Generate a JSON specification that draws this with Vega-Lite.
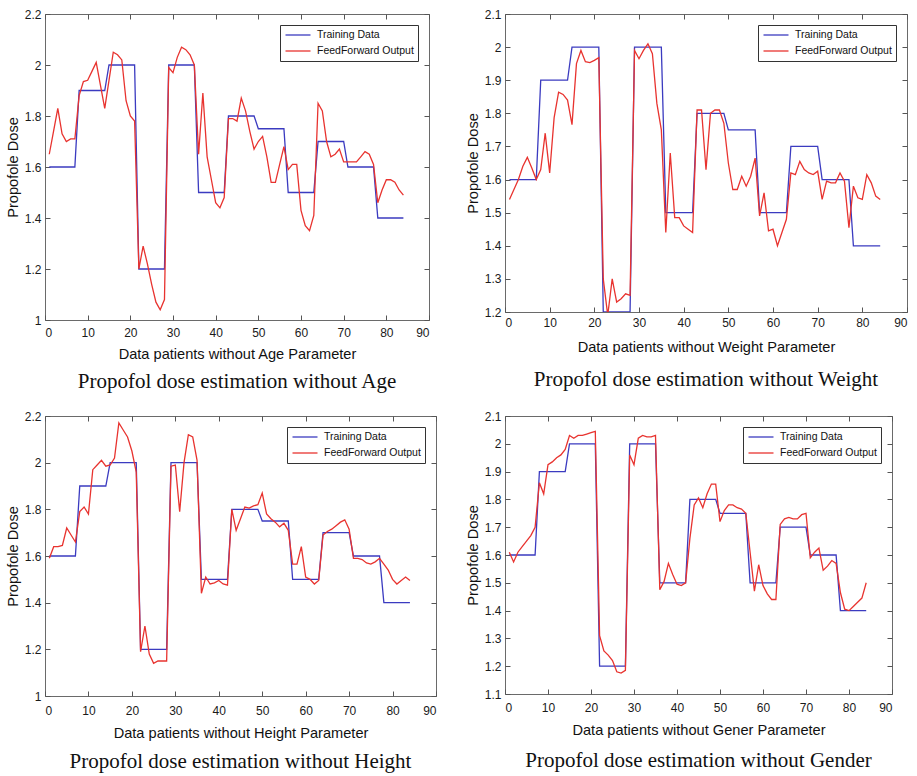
{
  "$schema": "https://vega.github.io/schema/vega-lite/v6.json",
  "background": "white",
  "padding": {"left": 4, "top": 7, "right": 4, "bottom": 4},
  "datasets": {
    "dose": [
      {"patient": 1, "training": 1.6, "age": 1.65, "weight": 1.54, "height": 1.59, "gender": 1.61},
      {"patient": 2, "training": 1.6, "age": 1.74, "weight": 1.57, "height": 1.64, "gender": 1.575},
      {"patient": 3, "training": 1.6, "age": 1.83, "weight": 1.6, "height": 1.64, "gender": 1.61},
      {"patient": 4, "training": 1.6, "age": 1.73, "weight": 1.64, "height": 1.645, "gender": 1.63},
      {"patient": 5, "training": 1.6, "age": 1.7, "weight": 1.667, "height": 1.72, "gender": 1.65},
      {"patient": 6, "training": 1.6, "age": 1.71, "weight": 1.635, "height": 1.69, "gender": 1.67},
      {"patient": 7, "training": 1.6, "age": 1.71, "weight": 1.6, "height": 1.66, "gender": 1.7},
      {"patient": 8, "training": 1.9, "age": 1.88, "weight": 1.63, "height": 1.79, "gender": 1.86},
      {"patient": 9, "training": 1.9, "age": 1.935, "weight": 1.74, "height": 1.81, "gender": 1.82},
      {"patient": 10, "training": 1.9, "age": 1.94, "weight": 1.62, "height": 1.78, "gender": 1.925},
      {"patient": 11, "training": 1.9, "age": 1.975, "weight": 1.787, "height": 1.97, "gender": 1.935},
      {"patient": 12, "training": 1.9, "age": 2.01, "weight": 1.864, "height": 1.99, "gender": 1.95},
      {"patient": 13, "training": 1.9, "age": 1.92, "weight": 1.857, "height": 2.01, "gender": 1.96},
      {"patient": 14, "training": 1.9, "age": 1.83, "weight": 1.84, "height": 1.985, "gender": 1.98},
      {"patient": 15, "training": 2.0, "age": 1.94, "weight": 1.766, "height": 1.99, "gender": 2.03},
      {"patient": 16, "training": 2.0, "age": 2.05, "weight": 1.95, "height": 2.02, "gender": 2.02},
      {"patient": 17, "training": 2.0, "age": 2.04, "weight": 1.99, "height": 2.17, "gender": 2.03},
      {"patient": 18, "training": 2.0, "age": 2.02, "weight": 1.956, "height": 2.14, "gender": 2.03},
      {"patient": 19, "training": 2.0, "age": 1.86, "weight": 1.953, "height": 2.11, "gender": 2.035},
      {"patient": 20, "training": 2.0, "age": 1.8, "weight": 1.96, "height": 2.05, "gender": 2.04},
      {"patient": 21, "training": 2.0, "age": 1.78, "weight": 1.968, "height": 1.96, "gender": 2.045},
      {"patient": 22, "training": 1.2, "age": 1.2, "weight": 1.3, "height": 1.19, "gender": 1.31},
      {"patient": 23, "training": 1.2, "age": 1.29, "weight": 1.19, "height": 1.3, "gender": 1.255},
      {"patient": 24, "training": 1.2, "age": 1.22, "weight": 1.3, "height": 1.18, "gender": 1.24},
      {"patient": 25, "training": 1.2, "age": 1.14, "weight": 1.23, "height": 1.14, "gender": 1.22},
      {"patient": 26, "training": 1.2, "age": 1.07, "weight": 1.24, "height": 1.15, "gender": 1.18},
      {"patient": 27, "training": 1.2, "age": 1.04, "weight": 1.255, "height": 1.15, "gender": 1.175},
      {"patient": 28, "training": 1.2, "age": 1.08, "weight": 1.25, "height": 1.15, "gender": 1.185},
      {"patient": 29, "training": 2.0, "age": 1.99, "weight": 1.99, "height": 1.985, "gender": 1.96},
      {"patient": 30, "training": 2.0, "age": 1.97, "weight": 1.965, "height": 1.99, "gender": 1.925},
      {"patient": 31, "training": 2.0, "age": 2.03, "weight": 1.99, "height": 1.79, "gender": 2.02},
      {"patient": 32, "training": 2.0, "age": 2.07, "weight": 2.01, "height": 2.0, "gender": 2.03},
      {"patient": 33, "training": 2.0, "age": 2.06, "weight": 1.98, "height": 2.12, "gender": 2.025},
      {"patient": 34, "training": 2.0, "age": 2.04, "weight": 1.83, "height": 2.11, "gender": 2.025},
      {"patient": 35, "training": 2.0, "age": 2.0, "weight": 1.75, "height": 2.01, "gender": 2.03},
      {"patient": 36, "training": 1.5, "age": 1.65, "weight": 1.44, "height": 1.44, "gender": 1.475},
      {"patient": 37, "training": 1.5, "age": 1.89, "weight": 1.68, "height": 1.51, "gender": 1.505},
      {"patient": 38, "training": 1.5, "age": 1.64, "weight": 1.485, "height": 1.48, "gender": 1.57},
      {"patient": 39, "training": 1.5, "age": 1.55, "weight": 1.485, "height": 1.485, "gender": 1.53},
      {"patient": 40, "training": 1.5, "age": 1.46, "weight": 1.46, "height": 1.495, "gender": 1.495},
      {"patient": 41, "training": 1.5, "age": 1.44, "weight": 1.45, "height": 1.48, "gender": 1.49},
      {"patient": 42, "training": 1.5, "age": 1.48, "weight": 1.44, "height": 1.475, "gender": 1.5},
      {"patient": 43, "training": 1.8, "age": 1.79, "weight": 1.81, "height": 1.8, "gender": 1.66},
      {"patient": 44, "training": 1.8, "age": 1.79, "weight": 1.81, "height": 1.71, "gender": 1.78},
      {"patient": 45, "training": 1.8, "age": 1.78, "weight": 1.63, "height": 1.76, "gender": 1.805},
      {"patient": 46, "training": 1.8, "age": 1.87, "weight": 1.8, "height": 1.81, "gender": 1.77},
      {"patient": 47, "training": 1.8, "age": 1.82, "weight": 1.81, "height": 1.805, "gender": 1.82},
      {"patient": 48, "training": 1.8, "age": 1.74, "weight": 1.81, "height": 1.815, "gender": 1.855},
      {"patient": 49, "training": 1.8, "age": 1.67, "weight": 1.77, "height": 1.82, "gender": 1.855},
      {"patient": 50, "training": 1.75, "age": 1.7, "weight": 1.65, "height": 1.87, "gender": 1.72},
      {"patient": 51, "training": 1.75, "age": 1.72, "weight": 1.57, "height": 1.78, "gender": 1.76},
      {"patient": 52, "training": 1.75, "age": 1.64, "weight": 1.57, "height": 1.76, "gender": 1.78},
      {"patient": 53, "training": 1.75, "age": 1.54, "weight": 1.61, "height": 1.745, "gender": 1.78},
      {"patient": 54, "training": 1.75, "age": 1.54, "weight": 1.58, "height": 1.725, "gender": 1.77},
      {"patient": 55, "training": 1.75, "age": 1.61, "weight": 1.61, "height": 1.74, "gender": 1.765},
      {"patient": 56, "training": 1.75, "age": 1.68, "weight": 1.665, "height": 1.71, "gender": 1.75},
      {"patient": 57, "training": 1.5, "age": 1.59, "weight": 1.49, "height": 1.565, "gender": 1.61},
      {"patient": 58, "training": 1.5, "age": 1.61, "weight": 1.56, "height": 1.565, "gender": 1.47},
      {"patient": 59, "training": 1.5, "age": 1.61, "weight": 1.445, "height": 1.64, "gender": 1.565},
      {"patient": 60, "training": 1.5, "age": 1.43, "weight": 1.45, "height": 1.51, "gender": 1.49},
      {"patient": 61, "training": 1.5, "age": 1.37, "weight": 1.4, "height": 1.5, "gender": 1.46},
      {"patient": 62, "training": 1.5, "age": 1.35, "weight": 1.44, "height": 1.48, "gender": 1.44},
      {"patient": 63, "training": 1.5, "age": 1.41, "weight": 1.48, "height": 1.495, "gender": 1.44},
      {"patient": 64, "training": 1.7, "age": 1.85, "weight": 1.62, "height": 1.69, "gender": 1.71},
      {"patient": 65, "training": 1.7, "age": 1.82, "weight": 1.615, "height": 1.705, "gender": 1.73},
      {"patient": 66, "training": 1.7, "age": 1.7, "weight": 1.655, "height": 1.715, "gender": 1.735},
      {"patient": 67, "training": 1.7, "age": 1.64, "weight": 1.63, "height": 1.73, "gender": 1.73},
      {"patient": 68, "training": 1.7, "age": 1.65, "weight": 1.62, "height": 1.745, "gender": 1.73},
      {"patient": 69, "training": 1.7, "age": 1.67, "weight": 1.615, "height": 1.755, "gender": 1.745},
      {"patient": 70, "training": 1.7, "age": 1.62, "weight": 1.625, "height": 1.715, "gender": 1.75},
      {"patient": 71, "training": 1.6, "age": 1.62, "weight": 1.54, "height": 1.59, "gender": 1.59},
      {"patient": 72, "training": 1.6, "age": 1.62, "weight": 1.595, "height": 1.59, "gender": 1.61},
      {"patient": 73, "training": 1.6, "age": 1.62, "weight": 1.59, "height": 1.585, "gender": 1.625},
      {"patient": 74, "training": 1.6, "age": 1.64, "weight": 1.59, "height": 1.57, "gender": 1.545},
      {"patient": 75, "training": 1.6, "age": 1.66, "weight": 1.62, "height": 1.565, "gender": 1.56},
      {"patient": 76, "training": 1.6, "age": 1.65, "weight": 1.595, "height": 1.575, "gender": 1.58},
      {"patient": 77, "training": 1.6, "age": 1.61, "weight": 1.455, "height": 1.59, "gender": 1.57},
      {"patient": 78, "training": 1.4, "age": 1.46, "weight": 1.58, "height": 1.565, "gender": 1.465},
      {"patient": 79, "training": 1.4, "age": 1.51, "weight": 1.545, "height": 1.54, "gender": 1.405},
      {"patient": 80, "training": 1.4, "age": 1.55, "weight": 1.54, "height": 1.5, "gender": 1.4},
      {"patient": 81, "training": 1.4, "age": 1.55, "weight": 1.615, "height": 1.48, "gender": 1.415},
      {"patient": 82, "training": 1.4, "age": 1.54, "weight": 1.59, "height": 1.495, "gender": 1.43},
      {"patient": 83, "training": 1.4, "age": 1.51, "weight": 1.55, "height": 1.51, "gender": 1.445},
      {"patient": 84, "training": 1.4, "age": 1.49, "weight": 1.54, "height": 1.495, "gender": 1.5}
    ]
  },
  "data": {"name": "dose"},
  "vconcat": [
    {
      "hconcat": [
        {
          "width": 384, "height": 306,
          "title": {"text": "Propofol dose estimation without Age", "offset": 10},
          "layer": [
            {
              "mark": {"type": "line", "clip": true},
              "encoding": {
                "x": {"field": "patient", "type": "quantitative", "scale": {"domain": [0, 90], "nice": false},
                      "axis": {"orient": "bottom", "values": [0, 10, 20, 30, 40, 50, 60, 70, 80, 90], "title": "Data patients without Age Parameter", "labelPadding": 12, "titlePadding": 8}},
                "y": {"field": "training", "type": "quantitative", "scale": {"domain": [1, 2.2], "nice": false, "zero": false},
                      "axis": {"orient": "left", "values": [1, 1.2, 1.4, 1.6, 1.8, 2, 2.2], "format": "~g", "title": "Propofole Dose"}},
                "color": {"datum": "Training Data", "type": "nominal",
                          "scale": {"domain": ["Training Data", "FeedForward Output"], "range": ["#3b3bc0", "#e8332f"]},
                          "legend": {"title": null}}
              }
            },
            {
              "mark": {"type": "line", "clip": true},
              "encoding": {
                "x": {"field": "patient", "type": "quantitative",
                      "axis": {"orient": "top", "values": [0, 10, 20, 30, 40, 50, 60, 70, 80, 90], "labels": false, "title": null}},
                "y": {"field": "age", "type": "quantitative",
                      "axis": {"orient": "right", "values": [1, 1.2, 1.4, 1.6, 1.8, 2, 2.2], "labels": false, "title": null}},
                "color": {"datum": "FeedForward Output", "type": "nominal"}
              }
            }
          ],
          "resolve": {"axis": {"x": "independent", "y": "independent"}}
        },
        {
          "width": 402, "height": 298,
          "title": {"text": "Propofol dose estimation without Weight", "offset": 15},
          "layer": [
            {
              "mark": {"type": "line", "clip": true},
              "encoding": {
                "x": {"field": "patient", "type": "quantitative", "scale": {"domain": [0, 90], "nice": false},
                      "axis": {"orient": "bottom", "values": [0, 10, 20, 30, 40, 50, 60, 70, 80, 90], "title": "Data patients without Weight Parameter", "labelPadding": 10, "titlePadding": 11}},
                "y": {"field": "training", "type": "quantitative", "scale": {"domain": [1.2, 2.1], "nice": false, "zero": false},
                      "axis": {"orient": "left", "values": [1.2, 1.3, 1.4, 1.5, 1.6, 1.7, 1.8, 1.9, 2, 2.1], "format": "~g", "title": "Propofole Dose"}},
                "color": {"datum": "Training Data", "type": "nominal",
                          "scale": {"domain": ["Training Data", "FeedForward Output"], "range": ["#3b3bc0", "#e8332f"]},
                          "legend": {"title": null}}
              }
            },
            {
              "mark": {"type": "line", "clip": true},
              "encoding": {
                "x": {"field": "patient", "type": "quantitative",
                      "axis": {"orient": "top", "values": [0, 10, 20, 30, 40, 50, 60, 70, 80, 90], "labels": false, "title": null}},
                "y": {"field": "weight", "type": "quantitative",
                      "axis": {"orient": "right", "values": [1.2, 1.3, 1.4, 1.5, 1.6, 1.7, 1.8, 1.9, 2, 2.1], "labels": false, "title": null}},
                "color": {"datum": "FeedForward Output", "type": "nominal"}
              }
            }
          ],
          "resolve": {"axis": {"x": "independent", "y": "independent"}}
        }
      ],
      "spacing": 34,
      "resolve": {"scale": {"color": "independent"}}
    },
    {
      "hconcat": [
        {
          "width": 391, "height": 280,
          "title": {"text": "Propofol dose estimation without Height", "offset": 11},
          "layer": [
            {
              "mark": {"type": "line", "clip": true},
              "encoding": {
                "x": {"field": "patient", "type": "quantitative", "scale": {"domain": [0, 90], "nice": false},
                      "axis": {"orient": "bottom", "values": [0, 10, 20, 30, 40, 50, 60, 70, 80, 90], "title": "Data patients without Height Parameter", "labelPadding": 14, "titlePadding": 9}},
                "y": {"field": "training", "type": "quantitative", "scale": {"domain": [1, 2.2], "nice": false, "zero": false},
                      "axis": {"orient": "left", "values": [1, 1.2, 1.4, 1.6, 1.8, 2, 2.2], "format": "~g", "title": "Propofole Dose"}},
                "color": {"datum": "Training Data", "type": "nominal",
                          "scale": {"domain": ["Training Data", "FeedForward Output"], "range": ["#3b3bc0", "#e8332f"]},
                          "legend": {"title": null}}
              }
            },
            {
              "mark": {"type": "line", "clip": true},
              "encoding": {
                "x": {"field": "patient", "type": "quantitative",
                      "axis": {"orient": "top", "values": [0, 10, 20, 30, 40, 50, 60, 70, 80, 90], "labels": false, "title": null}},
                "y": {"field": "height", "type": "quantitative",
                      "axis": {"orient": "right", "values": [1, 1.2, 1.4, 1.6, 1.8, 2, 2.2], "labels": false, "title": null}},
                "color": {"datum": "FeedForward Output", "type": "nominal"}
              }
            }
          ],
          "resolve": {"axis": {"x": "independent", "y": "independent"}}
        },
        {
          "width": 387, "height": 278,
          "title": {"text": "Propofol dose estimation without Gender", "offset": 13},
          "layer": [
            {
              "mark": {"type": "line", "clip": true},
              "encoding": {
                "x": {"field": "patient", "type": "quantitative", "scale": {"domain": [0, 90], "nice": false},
                      "axis": {"orient": "bottom", "values": [0, 10, 20, 30, 40, 50, 60, 70, 80, 90], "title": "Data patients without Gener Parameter", "labelPadding": 13, "titlePadding": 9}},
                "y": {"field": "training", "type": "quantitative", "scale": {"domain": [1.1, 2.1], "nice": false, "zero": false},
                      "axis": {"orient": "left", "values": [1.1, 1.2, 1.3, 1.4, 1.5, 1.6, 1.7, 1.8, 1.9, 2, 2.1], "format": "~g", "title": "Propofole Dose"}},
                "color": {"datum": "Training Data", "type": "nominal",
                          "scale": {"domain": ["Training Data", "FeedForward Output"], "range": ["#3b3bc0", "#e8332f"]},
                          "legend": {"title": null}}
              }
            },
            {
              "mark": {"type": "line", "clip": true},
              "encoding": {
                "x": {"field": "patient", "type": "quantitative",
                      "axis": {"orient": "top", "values": [0, 10, 20, 30, 40, 50, 60, 70, 80, 90], "labels": false, "title": null}},
                "y": {"field": "gender", "type": "quantitative",
                      "axis": {"orient": "right", "values": [1.1, 1.2, 1.3, 1.4, 1.5, 1.6, 1.7, 1.8, 1.9, 2, 2.1], "labels": false, "title": null}},
                "color": {"datum": "FeedForward Output", "type": "nominal"}
              }
            }
          ],
          "resolve": {"axis": {"x": "independent", "y": "independent"}}
        }
      ],
      "spacing": 27,
      "resolve": {"scale": {"color": "independent"}}
    }
  ],
  "spacing": 16,
  "resolve": {"scale": {"color": "independent"}},
  "config": {
    "view": {"stroke": "#6a6a6a", "strokeWidth": 1},
    "line": {"strokeWidth": 1.3},
    "axis": {
      "grid": false, "domain": false,
      "tickSize": -5, "tickColor": "#555555", "tickWidth": 1,
      "labelFont": "Liberation Sans", "labelFontSize": 12, "labelColor": "#1a1a1a", "labelPadding": 9,
      "titleFont": "Liberation Sans", "titleFontSize": 14.6, "titleFontWeight": "normal", "titleColor": "#111111"
    },
    "axisLeft": {"labelPadding": 9, "titlePadding": 4},
    "legend": {
      "orient": "top-right", "offset": 11,
      "strokeColor": "#333333", "fillColor": "white", "padding": 4,
      "symbolType": "M-2.5,0H2.5", "symbolSize": 100, "symbolStrokeWidth": 1.3, "symbolOffset": 8,
      "labelFont": "Liberation Sans", "labelFontSize": 10.5, "labelColor": "#111111", "labelOffset": 13,
      "rowPadding": 4
    },
    "title": {
      "orient": "bottom", "anchor": "middle", "frame": "group",
      "font": "Liberation Serif", "fontSize": 21, "fontWeight": "normal", "color": "#111111"
    }
  }
}
